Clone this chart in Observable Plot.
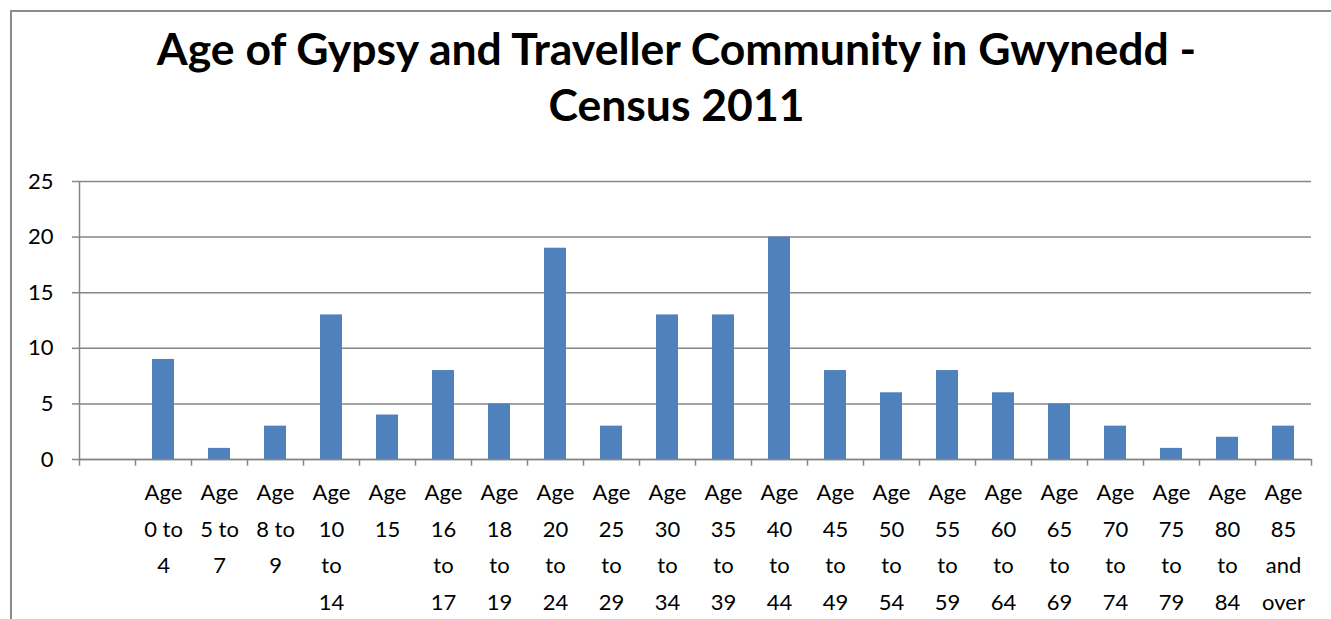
<!DOCTYPE html>
<html><head><meta charset="utf-8">
<script src="https://cdn.jsdelivr.net/npm/d3@7"></script>
<script src="https://cdn.jsdelivr.net/npm/@observablehq/plot@0.6"></script>
<style>
html,body{margin:0;padding:0;background:#fff;overflow:hidden;}
#frame{position:absolute;left:10px;top:10px;width:1340px;height:640px;border:2px solid #8c8c8c;box-sizing:border-box;}
#title{position:absolute;left:0;top:20px;width:1353px;text-align:center;font-family:Lato,sans-serif;font-weight:bold;font-size:44.5px;line-height:56px;color:#000;white-space:nowrap;}
#chart{position:absolute;left:0;top:160px;}
</style></head>
<body>
<div id="frame"></div>
<div id="title">Age of Gypsy and Traveller Community in Gwynedd -<br>Census 2011</div>
<div id="chart"></div>
<script>
const categories = ["Age 0 to 4","Age 5 to 7","Age 8 to 9","Age 10 to 14","Age 15","Age 16 to 17","Age 18 to 19","Age 20 to 24","Age 25 to 29","Age 30 to 34","Age 35 to 39","Age 40 to 44","Age 45 to 49","Age 50 to 54","Age 55 to 59","Age 60 to 64","Age 65 to 69","Age 70 to 74","Age 75 to 79","Age 80 to 84","Age 85 and over"];
const values = [9,1,3,13,4,8,5,19,3,13,13,20,8,6,8,6,5,3,1,2,3];
const yTicks = [0,5,10,15,20,25];
const blank = " ";

const data = categories.map((c,i)=>({cat:c, v:values[i]}));
const domain = [blank, ...categories];

function wrap(s, max=4){
  const words = s.split(" "); const lines=[]; let cur="";
  for (const w of words){
    if (!cur) cur=w;
    else if ((cur+" "+w).length<=max) cur+=" "+w;
    else {lines.push(cur); cur=w;}
  }
  if (cur) lines.push(cur);
  return lines.join("\n");
}

const gray = "#868686";
const chart = Plot.plot({
  width: 1331, height: 459,
  marginLeft: 79, marginRight: 20, marginTop: 21, marginBottom: 160,
  style: {fontFamily: "Lato, sans-serif", fontSize: "22px", color:"#000", background:"transparent"},
  x: {domain, paddingInner: 0.607, paddingOuter: 0.3035, axis: null},
  y: {domain: [0,25], ticks: yTicks, axis: null},
  marks: [
    Plot.gridY(yTicks, {stroke: gray, strokeOpacity: 1, strokeWidth: 1.5}),
    Plot.axisY(yTicks, {tickSize: 7, tickPadding: 19, stroke: gray, strokeWidth: 1.5, fontSize: 22, label: null, tickFormat: d=>String(d)}),
    Plot.barY(data, {x: "cat", y: "v", fill: "#4f81bd"}),
    Plot.ruleX([domain[0]], {dx: -28, stroke: gray, strokeWidth: 1.5}),
    Plot.ruleX(domain, {y1: 0, y2: -0.6, dx: -28, stroke: gray, strokeWidth: 1.5}),
    Plot.ruleX([domain[domain.length-1]], {y1: 0, y2: -0.6, dx: 28, stroke: gray, strokeWidth: 1.5}),
    Plot.ruleY([0], {stroke: gray, strokeWidth: 1.5}),
    Plot.text(data, {x: "cat", y: () => 0, text: d => wrap(d.cat), lineAnchor: "top", dy: 15, lineHeight: 1.66, fontSize: 22, fill: "#000"})
  ]
});
document.getElementById("chart").appendChild(chart);
</script>
</body></html>
